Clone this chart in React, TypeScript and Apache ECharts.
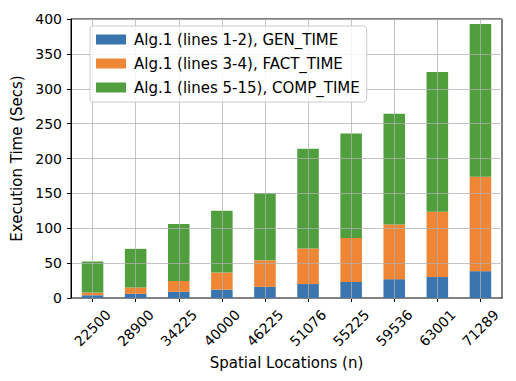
import React, { useEffect, useRef } from "react";
import * as echarts from "echarts";

const categories = ["22500", "28900", "34225", "40000", "46225", "51076", "55225", "59536", "63001", "71289"];
const genTime = [4, 6, 9, 12, 16, 20, 23, 27, 30, 38.5];
const factTime = [4, 9, 15.5, 24.5, 38, 51, 63, 78.5, 93.5, 135.5];
const compTime = [44.5, 55.5, 81.5, 88.5, 96.5, 143, 150, 158.5, 200.5, 219];
const seriesNames = [
  "Alg.1 (lines 1-2), GEN_TIME",
  "Alg.1 (lines 3-4), FACT_TIME",
  "Alg.1 (lines 5-15), COMP_TIME",
];
const colors = ["#3a75af", "#ef8636", "#519e3e"];

const FONT = "DejaVu Sans";

export default function App() {
  const ref = useRef<HTMLDivElement>(null);
  useEffect(() => {
    if (!ref.current) return;
    const chart = echarts.init(ref.current, undefined, { renderer: "svg" });
    const gridColor = "rgba(176,176,176,0.75)";
    const dataSets = [genTime, factTime, compTime];
    chart.setOption({
      animation: false,
      color: colors,
      textStyle: { fontFamily: FONT },
      grid: {
        left: 63,
        right: 6,
        top: 11,
        bottom: 75,
        outerBoundsMode: "none",
        containLabel: false,
        show: true,
        borderColor: "#000",
        borderWidth: 1,
        backgroundColor: "transparent",
      },
      legend: {
        orient: "vertical",
        left: 82,
        top: 18,
        z: 20,
        padding: [6, 7, 7, 6],
        itemWidth: 30,
        itemHeight: 10,
        itemGap: 9,
        icon: "rect",
        backgroundColor: "rgba(255,255,255,0.85)",
        borderColor: "#cccccc",
        borderWidth: 1,
        borderRadius: 3,
        textStyle: { fontFamily: FONT, fontSize: 15, color: "#000", lineHeight: 15, padding: [0, 0, 0, 3] },
        data: seriesNames,
      },
      xAxis: {
        type: "category",
        data: categories,
        name: "Spatial Locations (n)",
        nameLocation: "middle",
        nameGap: 57,
        nameTextStyle: { fontFamily: FONT, fontSize: 15, color: "#000" },
        axisLine: { show: true, lineStyle: { color: "#000", width: 1 } },
        axisTick: { show: true, alignWithLabel: true, length: 4, lineStyle: { color: "#000" } },
        axisLabel: {
          rotate: 45,
          align: "center",
          verticalAlign: "middle",
          margin: 30,
          fontFamily: FONT,
          fontSize: 14,
          color: "#000",
        },
        splitLine: { show: false },
      },
      yAxis: {
        type: "value",
        min: 0,
        max: 400,
        interval: 50,
        z: 5,
        name: "Execution Time (Secs)",
        nameLocation: "middle",
        nameGap: 42,
        nameTextStyle: { fontFamily: FONT, fontSize: 15, color: "#000" },
        axisLine: { show: true, lineStyle: { color: "#000", width: 1 } },
        axisTick: { show: true, length: 4, lineStyle: { color: "#000" } },
        axisLabel: { fontFamily: FONT, fontSize: 14, color: "#000", margin: 9 },
        splitLine: { show: true, lineStyle: { color: gridColor, width: 1 } },
      },
      series: seriesNames.map((name, i) => ({
        name,
        type: "bar",
        stack: "total",
        barWidth: "50%",
        data: dataSets[i],
        itemStyle: { color: colors[i] },
        z: 2,
        ...(i === 2
          ? {
              markLine: {
                silent: true,
                symbol: "none",
                z: 6,
                precision: 0,
                label: { show: false },
                lineStyle: { color: gridColor, width: 1, type: "solid" },
                data: categories.map((_, k) => ({ xAxis: k })),
              },
            }
          : {}),
      })),
    });
    return () => chart.dispose();
  }, []);
  return <div ref={ref} style={{ width: 500, height: 365 }} />;
}
